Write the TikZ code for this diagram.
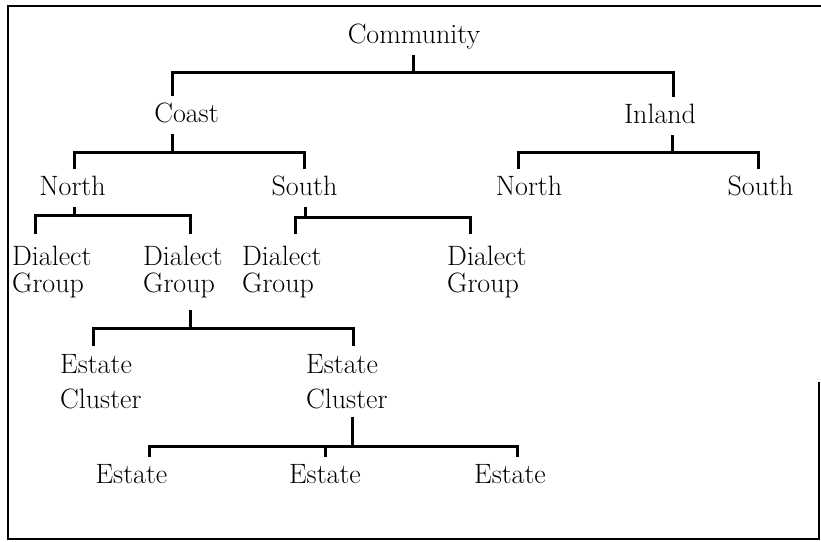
\documentclass[tikz,border=0pt]{standalone}
\usepackage{tikz}
\tikzset{
  % Level labels
  lbl/.style={font=\fontsize{28}{30}\selectfont,text height=19pt,text depth=5pt,
    inner xsep=0pt,inner ysep=7pt,anchor=base},
  lbl group/.style={font=\fontsize{28}{27}\selectfont,align=left,
    inner xsep=0pt,inner ysep=12pt,anchor=north west},
  lbl cluster/.style={font=\fontsize{28}{35}\selectfont,align=left,
    inner xsep=0pt,inner ysep=8pt,anchor=north west},
  % Tree lines
  branch/.style={line width=3pt},
  frame/.style={line width=2.6pt}
}

\begin{document}
\begin{tikzpicture}[x=1pt,y=-1pt]
  \useasboundingbox (0,0) rectangle (821,541);
  % Border
  \draw[frame] (821,6) -| (8,539) -| (819,382);
  % Levels
  \node[lbl] (com) at (414,43) {Community};
  \node[lbl] (coast) at (186.5,122) {Coast};
  \node[lbl] (inland) at (660,123) {Inland};
  \node[lbl] (cnorth) at (72.5,195) {North};
  \node[lbl] (csouth) at (304.5,195) {South};
  \node[lbl] (inorth) at (529,195) {North};
  \node[lbl] (isouth) at (760.5,195) {South};
  \node[lbl group] (dg1) at (12,234) {Dialect\\Group};
  \node[lbl group] (dg2) at (143,234) {Dialect\\Group};
  \node[lbl group] (dg3) at (242,234) {Dialect\\Group};
  \node[lbl group] (dg4) at (447,234) {Dialect\\Group};
  \node[lbl cluster] (ec1) at (60,346) {Estate\\Cluster};
  \node[lbl cluster] (ec2) at (306,346) {Estate\\Cluster};
  \node[lbl] (est1) at (131.5,483) {Estate};
  \node[lbl] (est2) at (325,483) {Estate};
  \node[lbl] (est3) at (510,483) {Estate};
  % Bar points
  \coordinate (bar0) at (413,72);
  \coordinate (bar1) at (172,152);
  \coordinate (bar2) at (672,152);
  \coordinate (bar3) at (74,215);
  \coordinate (bar4) at (305,217);
  \coordinate (bar5) at (190,328);
  \coordinate (bar6) at (352,446);
  % Community
  \draw[branch] (bar0 |- com.south) -- (bar0);
  \draw[branch] ([xshift=-14.5pt]coast.north) |- (bar0) -| ([xshift=13pt]inland.north);
  % Coast
  \draw[branch] (bar1 |- coast.south) -- (bar1);
  \draw[branch] ([xshift=2pt]cnorth.north) |- (bar1) -| (csouth.north);
  % Inland
  \draw[branch] (bar2 |- inland.south) -- (bar2);
  \draw[branch] ([xshift=-11pt]inorth.north) |- (bar2) -| ([xshift=-2pt]isouth.north);
  % North and South
  \draw[branch] (bar3 |- cnorth.south) -- (bar3);
  \draw[branch] ([xshift=23pt]dg1.north west) |- (bar3) -| ([xshift=47pt]dg2.north west);
  \draw[branch] (bar4 |- csouth.south) -- (bar4);
  \draw[branch] ([xshift=53pt]dg3.north west) |- (bar4) -| ([xshift=23pt]dg4.north west);
  % Dialect group
  \draw[branch] (bar5 |- dg2.south) -- (bar5);
  \draw[branch] ([xshift=33pt]ec1.north west) |- (bar5) -| ([xshift=47pt]ec2.north west);
  % Estate cluster
  \draw[branch] (bar6 |- ec2.south) -- (bar6);
  \draw[branch] ([xshift=17.5pt]est1.north) |- (bar6) -| ([xshift=7pt]est3.north);
  \draw[branch] (est2.north) -- (est2.north |- bar6);
\end{tikzpicture}
\end{document}
